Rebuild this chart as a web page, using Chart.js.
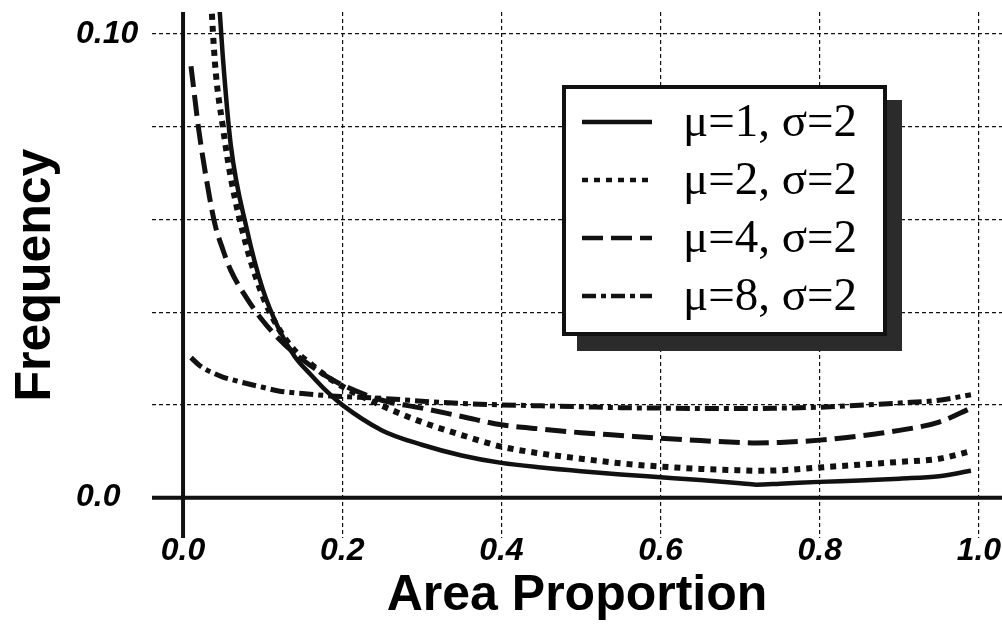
<!DOCTYPE html>
<html>
<head>
<meta charset="utf-8">
<script src="https://cdn.jsdelivr.net/npm/chart.js@4.4.1/dist/chart.umd.min.js"></script>
<style>
  html, body { margin: 0; padding: 0; background: #fff; }
  .wrap { position: relative; width: 1002px; height: 626px; }
</style>
</head>
<body>
<div class="wrap"><canvas class="graf"></canvas></div>
<script>
// x positions shared by all curves
const areaProportion = [0.01, 0.02, 0.03, 0.04, 0.05, 0.06, 0.08, 0.10, 0.12, 0.14, 0.16, 0.18, 0.20,
  0.25, 0.30, 0.35, 0.40, 0.45, 0.50, 0.55, 0.60, 0.65, 0.70, 0.72, 0.75, 0.80, 0.85, 0.90, 0.95, 0.99];

const freqMu1 = [null, null, 0.150, 0.120, 0.095, 0.076, 0.058, 0.045, 0.0365, 0.0305, 0.0266, 0.0230, 0.0200,
  0.0145, 0.0114, 0.0091, 0.0075, 0.0065, 0.0057, 0.0050, 0.0044, 0.0038, 0.0031, 0.0028, 0.0030, 0.0034, 0.0037, 0.0041, 0.0046, 0.0058];
const freqMu2 = [null, null, 0.125, 0.094, 0.080, 0.069, 0.054, 0.0435, 0.0365, 0.0318, 0.0289, 0.0262, 0.0240,
  0.0198, 0.0163, 0.0135, 0.0110, 0.0095, 0.0084, 0.0074, 0.0067, 0.0062, 0.0059, 0.0058, 0.0059, 0.0065, 0.0071, 0.0077, 0.0084, 0.0100];
const freqMu4 = [0.093, 0.079, 0.068, 0.059, 0.0535, 0.049, 0.043, 0.0382, 0.0343, 0.0311, 0.0285, 0.0262, 0.0243,
  0.0210, 0.0193, 0.0175, 0.0157, 0.0148, 0.0140, 0.0134, 0.0128, 0.0123, 0.0119, 0.0118, 0.0119, 0.0124, 0.0133, 0.0145, 0.0163, 0.0193];
const freqMu8 = [0.0302, 0.0286, 0.0275, 0.0267, 0.0260, 0.0255, 0.0246, 0.0238, 0.0230, 0.0226, 0.0223, 0.0220, 0.0218,
  0.0214, 0.0208, 0.0203, 0.0200, 0.0198, 0.0196, 0.0194, 0.0193, 0.0192, 0.0192, 0.0192, 0.0193, 0.0195, 0.0199, 0.0204, 0.0210, 0.0222];

const seriesLabels = ['μ=1, σ=2', 'μ=2, σ=2', 'μ=4, σ=2', 'μ=8, σ=2'];

const xTickValues = [0, 0.2, 0.4, 0.6, 0.8, 1.0];
const xTickLabels = ['0.0', '0.2', '0.4', '0.6', '0.8', '1.0'];
const yTickValues = [0, 0.02, 0.04, 0.06, 0.08, 0.10];
const yTickLabels = ['0.0', '', '', '', '', '0.10'];

const ink = '#111';

function pts(ys) {
  return areaProportion.map((x, i) => ({ x: x, y: ys[i] }));
}

// thick axis lines through zero
const zeroAxes = {
  id: 'zeroAxes',
  beforeDatasetsDraw(chart) {
    const { ctx, chartArea: a, scales: { x, y } } = chart;
    const x0 = x.getPixelForValue(0);
    const y0 = y.getPixelForValue(0);
    ctx.save();
    ctx.strokeStyle = ink;
    ctx.lineWidth = 4;
    ctx.setLineDash([]);
    ctx.beginPath();
    ctx.moveTo(x0, a.top);
    ctx.lineTo(x0, a.bottom);
    ctx.moveTo(a.left, y0);
    ctx.lineTo(a.right, y0);
    ctx.stroke();
    ctx.restore();
  }
};

// boxed legend with drop shadow
const boxLegend = {
  id: 'boxLegend',
  afterDraw(chart) {
    const ctx = chart.ctx;
    const bx = 562, by = 85, bw = 325, bh = 251, sh = 15;
    ctx.save();
    ctx.fillStyle = '#2b2b2b';
    ctx.fillRect(bx + sh, by + sh, bw, bh);
    ctx.fillStyle = '#fff';
    ctx.fillRect(bx, by, bw, bh);
    ctx.strokeStyle = ink;
    ctx.lineWidth = 4;
    ctx.strokeRect(bx + 2, by + 2, bw - 4, bh - 4);

    chart.data.datasets.forEach((ds, i) => {
      const yy = 122 + i * 58;
      ctx.strokeStyle = ink;
      ctx.lineWidth = 4.5;
      ctx.setLineDash(ds.borderDash || []);
      ctx.beginPath();
      ctx.moveTo(582, yy);
      ctx.lineTo(652, yy);
      ctx.stroke();
      ctx.setLineDash([]);
      ctx.fillStyle = '#000';
      ctx.font = '47px "Liberation Serif", "Times New Roman", serif';
      ctx.textAlign = 'left';
      ctx.textBaseline = 'middle';
      ctx.fillText(ds.label, 683, yy + 2);
    });
    ctx.restore();
  }
};

const tickFont = { family: '"Liberation Sans", Arial, sans-serif', size: 32, weight: 'bold', style: 'italic' };
const titleFont = { family: '"Liberation Sans", Arial, sans-serif', size: 50, weight: 'bold' };

const noPad = (s) => { s.paddingTop = 0; s.paddingBottom = 0; s.paddingLeft = 0; s.paddingRight = 0; };

const chart = new Chart(document.querySelector('.graf'), {
  type: 'line',
  data: {
    datasets: [{
      label: seriesLabels[0],
      data: pts(freqMu1),
      borderColor: ink,
      borderWidth: 4.5,
      borderDash: [],
    }, {
      label: seriesLabels[1],
      data: pts(freqMu2),
      borderColor: ink,
      borderWidth: 6,
      borderDash: [6, 6],
    }, {
      label: seriesLabels[2],
      data: pts(freqMu4),
      borderColor: ink,
      borderWidth: 5,
      borderDash: [21, 8],
    }, {
      label: seriesLabels[3],
      data: pts(freqMu8),
      borderColor: ink,
      borderWidth: 5,
      borderDash: [14, 5, 5, 5],
    }]
  },
  options: {
    responsive: true,
    maintainAspectRatio: false,
    animation: false,
    devicePixelRatio: 1,
    layout: { padding: { left: 0, right: 0, top: 12, bottom: 0 } },
    elements: {
      point: { radius: 0 },
      line: { cubicInterpolationMode: 'monotone', fill: false, borderCapStyle: 'butt' }
    },
    plugins: {
      legend: { display: false },
      tooltip: { enabled: false }
    },
    scales: {
      x: {
        type: 'linear',
        min: -0.039,
        max: 1.029,
        afterBuildTicks: (s) => { s.ticks = xTickValues.map(v => ({ value: v })); },
        afterFit: (s) => { s.height = 88; noPad(s); },
        ticks: {
          color: '#000',
          font: tickFont,
          padding: -6,
          maxRotation: 0,
          autoSkip: false,
          callback: (v, i) => xTickLabels[i]
        },
        grid: { color: ink, lineWidth: 1.2, drawTicks: false },
        border: { display: false, dash: [4, 3] },
        title: { display: true, text: 'Area Proportion', color: '#000', font: titleFont, padding: { top: 0, bottom: 0 } }
      },
      y: {
        min: -0.0087,
        max: 0.1047,
        weight: 0,
        afterBuildTicks: (s) => { s.ticks = yTickValues.map(v => ({ value: v })); },
        afterFit: (s) => { s.width = 76; noPad(s); },
        ticks: {
          color: '#000',
          font: tickFont,
          padding: 14,
          crossAlign: 'far',
          autoSkip: false,
          callback: (v, i) => yTickLabels[i]
        },
        grid: { color: ink, lineWidth: 1.2, drawTicks: false },
        border: { display: false, dash: [4, 3] },
        title: { display: false }
      },
      // outer axis that only carries the y title
      yTitle: {
        type: 'linear',
        position: 'left',
        weight: 1,
        min: -0.0087,
        max: 0.1047,
        afterFit: (s) => { s.width = 76; noPad(s); },
        ticks: { display: false },
        grid: { display: false, drawTicks: false },
        border: { display: false },
        title: { display: true, text: 'Frequency', color: '#000', font: titleFont, padding: { top: 6, bottom: 0 } }
      }
    }
  },
  plugins: [zeroAxes, boxLegend]
});
</script>
</body>
</html>
